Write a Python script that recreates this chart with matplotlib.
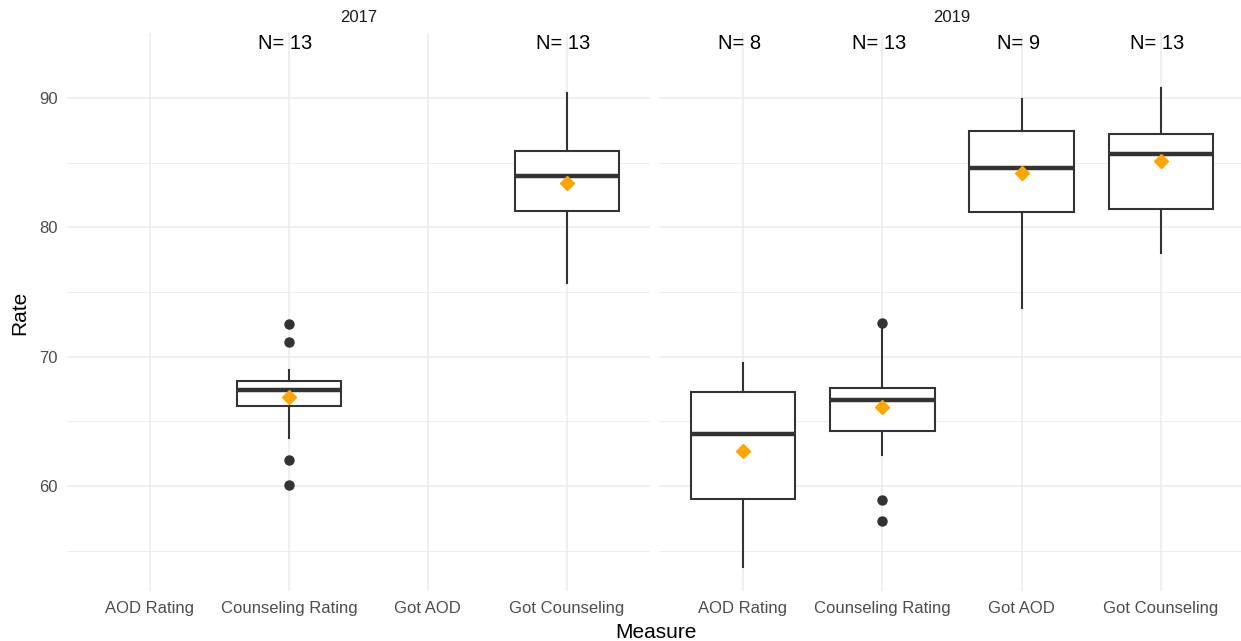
import numpy as np
import matplotlib.pyplot as plt

plt.rcParams['font.family'] = ['Liberation Sans', 'DejaVu Sans']

measures = ['AOD Rating', 'Counseling Rating', 'Got AOD', 'Got Counseling']
years = ['2017', '2019']

# per-year box summaries, None where the measure was not collected
low_2017 = [None, 63.7, None, 75.7]
q1_2017 = [None, 66.2, None, 81.3]
med_2017 = [None, 67.4, None, 84.0]
q3_2017 = [None, 68.1, None, 85.9]
high_2017 = [None, 69.0, None, 90.4]
mean_2017 = [None, 66.85, None, 83.45]
n_2017 = [None, 13, None, 13]
out_2017 = [[], [72.55, 71.1, 62.0, 60.1], [], []]

low_2019 = [53.75, 62.4, 73.75, 78.05]
q1_2019 = [59.0, 64.25, 81.2, 81.45]
med_2019 = [64.05, 66.65, 84.6, 85.65]
q3_2019 = [67.25, 67.55, 87.45, 87.25]
high_2019 = [69.5, 72.4, 89.95, 90.8]
mean_2019 = [62.7, 66.1, 84.2, 85.15]
n_2019 = [8, 13, 9, 13]
out_2019 = [[], [72.62, 58.9, 57.3], [], []]

stats = {
    '2017': (low_2017, q1_2017, med_2017, q3_2017, high_2017, mean_2017, n_2017, out_2017),
    '2019': (low_2019, q1_2019, med_2019, q3_2019, high_2019, mean_2019, n_2019, out_2019),
}

W, H = 1241, 641
fig = plt.figure(figsize=(W / 100, H / 100), dpi=100)
fig.patch.set_facecolor('white')

# panel extents in pixels: left, right
panels = {'2017': (66.6, 650.0), '2019': (659.4, 1244.6)}
top, bottom = 33, 591

dark = '#333333'
grid_col = '#EBEBEB'

for i, yr in enumerate(years):
    x0, x1 = panels[yr]
    ax = fig.add_axes([x0 / W, (H - bottom) / H, (x1 - x0) / W, (bottom - top) / H])
    ax.set_xlim(-0.6, 3.6)
    ax.set_ylim(51.87, 95.03)
    for s in ax.spines.values():
        s.set_visible(False)

    ax.set_yticks([60, 70, 80, 90])
    ax.set_yticks([55, 65, 75, 85], minor=True)
    ax.set_xticks(range(len(measures)))
    ax.set_xticklabels(measures)
    ax.tick_params(axis='both', which='both', length=0, labelsize=12, colors='#4D4D4D')
    ax.tick_params(axis='x', pad=7)
    ax.tick_params(axis='y', pad=6.5)
    if i > 0:
        ax.tick_params(axis='y', labelleft=False)
    ax.grid(True, which='major', color=grid_col, lw=1.1)
    ax.grid(True, which='minor', axis='y', color=grid_col, lw=0.6)
    ax.set_axisbelow(True)

    lo, q1, med, q3, hi, mu, n, outs = stats[yr]
    bx = []
    pos = []
    for j in range(len(measures)):
        if med[j] is None:
            continue
        bx.append(dict(whislo=lo[j], q1=q1[j], med=med[j], q3=q3[j], whishi=hi[j],
                       fliers=outs[j], label=measures[j]))
        pos.append(j)
    ax.bxp(bx, positions=pos, widths=0.75, showcaps=False, patch_artist=True,
           boxprops=dict(facecolor='white', edgecolor=dark, lw=1.5),
           medianprops=dict(color=dark, lw=3.2),
           whiskerprops=dict(color=dark, lw=1.5),
           flierprops=dict(marker='o', markerfacecolor=dark, markeredgecolor=dark, markersize=6.5),
           manage_ticks=False, zorder=3)

    for j in pos:
        ax.plot(j, mu[j], marker='D', color='#FFA500', markersize=7.5, ls='none', zorder=5)
        ax.text(j - 0.025, 94.2, f'N= {n[j]}', ha='center', va='center', fontsize=14.5, color='black')

    ax.text(0.5, 1 + 16 / (bottom - top), yr, transform=ax.transAxes, ha='center', va='center',
            fontsize=12, color='#1A1A1A')

fig.text(656 / W, 1 - 632 / H, 'Measure', ha='center', va='center', fontsize=15)
fig.text(20 / W, 1 - 313 / H, 'Rate', ha='center', va='center', fontsize=15, rotation=90)

fig.savefig('out.png', dpi=100)
